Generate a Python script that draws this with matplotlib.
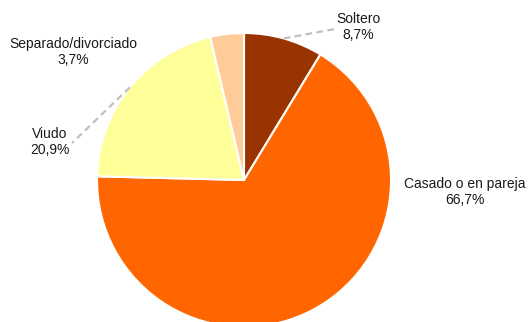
import numpy as np
import matplotlib
matplotlib.use("Agg")
import matplotlib.pyplot as plt

plt.rcParams['font.family'] = ['Liberation Sans', 'DejaVu Sans']

# data
categories = ["Soltero", "Casado o en pareja", "Viudo", "Separado/divorciado"]
shares = [8.7, 66.7, 20.9, 3.7]
share_labels = ["8,7%", "66,7%", "20,9%", "3,7%"]
colors = ["#993300", "#FF6600", "#FFFF99", "#FFCC99"]

W, H = 529, 322
fig = plt.figure(figsize=(W / 100, H / 100), dpi=100)
ax = fig.add_axes([0, 0, 1, 1])

cx, cy, R = 244, H - 180, 147
wedges, _ = ax.pie(shares, colors=colors, startangle=90, counterclock=False,
                   center=(cx, cy), radius=R, explode=[0, 0.025, 0, 0],
                   wedgeprops=dict(edgecolor="white", linewidth=1.5))
ax.set_xlim(0, W)
ax.set_ylim(0, H)
ax.set_aspect("equal", adjustable="box")
ax.axis("off")

# label layout (pixel coords, y measured from top)
label_pos = [(358, 27), (465, 192), (50, 142), (73, 52)]
leader_end = [(335, 29), None, (72, 143), None]

for w, name, pct, (lx, ly), le in zip(wedges, categories, share_labels, label_pos, leader_end):
    ax.text(lx, H - ly, f"{name}\n{pct}", ha="center", va="center",
            fontsize=10, color="#1a1a1a", linespacing=1.25)
    if le is not None:
        mid = np.deg2rad((w.theta1 + w.theta2) / 2)
        sx, sy = cx + R * np.cos(mid), cy + R * np.sin(mid)
        ax.plot([sx, le[0]], [sy, H - le[1]], color="#BFBFBF", lw=1.6,
                linestyle=(0, (3, 2)))

fig.savefig("out.png", dpi=100)
